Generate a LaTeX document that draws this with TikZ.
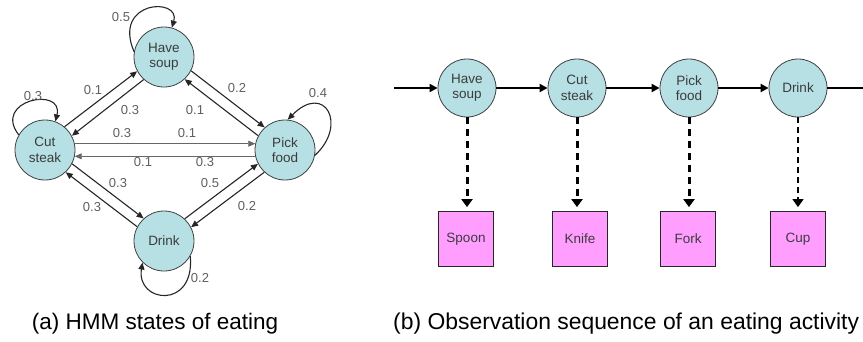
\documentclass[tikz,border=0pt]{standalone}
\usepackage{fontspec}
\setmainfont{Liberation Sans}
\usetikzlibrary{arrows.meta}
\definecolor{statefill}{RGB}{182,224,228}
\definecolor{obsfill}{RGB}{255,158,255}
\definecolor{txtgray}{RGB}{60,60,60}
\definecolor{lblgray}{RGB}{95,95,95}
\begin{document}
\begin{tikzpicture}[x=1pt, y=-1pt,
    state/.style={circle, draw=black!75, line width=0.8pt, fill=statefill, minimum size=60pt, inner sep=0pt,
        align=center, text=txtgray, font=\fontsize{13.5}{15.5}\selectfont},
    rstate/.style={state, minimum size=58pt},
    obs/.style={rectangle, draw=black!85, line width=0.8pt, fill=obsfill, minimum width=55pt, minimum height=55pt,
        inner sep=0pt, text=txtgray, font=\fontsize{13.5}{15.5}\selectfont},
    lbl/.style={text=lblgray, inner sep=0pt, font=\fontsize{13}{13}\selectfont},
    capt/.style={font=\fontsize{22.5}{24}\selectfont, inner sep=0pt},
    trans/.style={-{Triangle[length=7pt,width=6pt]}, line width=1.1pt, black!85},
    flat/.style={-{Triangle[length=7pt,width=6pt]}, line width=0.7pt, black!60},
    chain/.style={-{Triangle[length=8pt,width=8pt]}, line width=2.5pt},
    emit/.style={-{Triangle[length=8pt,width=11pt]}, line width=3pt, dash pattern=on 7pt off 5pt, shorten >=4pt},
    emitthin/.style={-{Triangle[length=8pt,width=11pt]}, line width=1.3pt, dash pattern=on 6pt off 4pt, shorten >=4pt}
]
\useasboundingbox (0,0) rectangle (863,341);

% (a) HMM states
\node[state] (hs) at (164,57) {Have\\soup};
\node[state] (cs) at (45,150) {Cut\\steak};
\node[state] (pf) at (285,150) {Pick\\food};
\node[state] (dr) at (164,241) {Drink};

% self loops
\draw[trans] (hs.170) .. controls (112,0) and (181,-3) .. (hs.75);
\draw[trans] (cs.150) .. controls (-8,100) and (64,86) .. (cs.70);
\draw[trans] (pf.-10) .. controls (348,125) and (325,82) .. (pf.85);
\draw[trans] (dr.-30) .. controls (195,310) and (136,303) .. (dr.225);
\node[lbl] (l55) at (121,17) {0.5};
\node[lbl] (l33) at (33,96) {0.3};
\node[lbl] (l44) at (318,93) {0.4};
\node[lbl] (l22) at (200,278) {0.2};

% cut steak <-> have soup
\draw[trans] (cs.50) -- (hs.208);
\draw[trans] (hs.228) -- (cs.28);
\node[lbl] (l31) at (93,90) {0.1};
\node[lbl] (l13) at (130,110) {0.3};

% have soup <-> pick food
\draw[trans] (hs.-27) -- (pf.132);
\draw[trans] (pf.152) -- (hs.-47);
\node[lbl] (l14) at (237,88) {0.2};
\node[lbl] (l41) at (195,110) {0.1};

% cut steak <-> pick food
\draw[flat] (cs.12) -- (pf.168);
\draw[flat] (pf.192) -- (cs.-12);
\node[lbl] (l34a) at (122,133) {0.3};
\node[lbl] (l34b) at (187,133) {0.1};
\node[lbl] (l43a) at (143,162) {0.1};
\node[lbl] (l43b) at (205,162) {0.3};

% cut steak <-> drink
\draw[trans] (cs.-27) -- (dr.132);
\draw[trans] (dr.152) -- (cs.-47);
\node[lbl] (l32) at (118,183) {0.3};
\node[lbl] (l23) at (92,207) {0.3};

% drink <-> pick food
\draw[trans] (dr.47) -- (pf.207);
\draw[trans] (pf.227) -- (dr.27);
\node[lbl] (l24) at (210,183) {0.5};
\node[lbl] (l42) at (247,206) {0.2};

\node[capt] (capa) at (155,324) {(a) HMM states of eating};

% (b) observation sequence
\coordinate (start) at (394,88);
\node[rstate] (s1) at (467,88) {Have\\soup};
\node[rstate] (s2) at (577,88) {Cut\\steak};
\node[rstate] (s3) at (689,88) {Pick\\food};
\node[rstate] (s4) at (798,88) {Drink};
\coordinate (stop) at (871,88);

\node[obs] (o1) at (466,239) {Spoon};
\node[obs] (o2) at (580,239) {Knife};
\node[obs] (o3) at (688,239) {Fork};
\node[obs] (o4) at (798,239) {Cup};

\draw[chain] (start) -- (s1);
\draw[chain] (s1) -- (s2);
\draw[chain] (s2) -- (s3);
\draw[chain] (s3) -- (s4);
\draw[chain] (s4) -- (stop);

\draw[emit] (s1) -- (o1.north -| s1);
\draw[emit] (s2) -- (o2.north -| s2);
\draw[emit] (s3) -- (o3.north -| s3);
\draw[emitthin] (s4) -- (o4.north -| s4);

\node[capt, anchor=west, font=\fontsize{22.9}{24}\selectfont] (capb) at (393,324) {(b) Observation sequence of an eating activity};
\end{tikzpicture}
\end{document}
